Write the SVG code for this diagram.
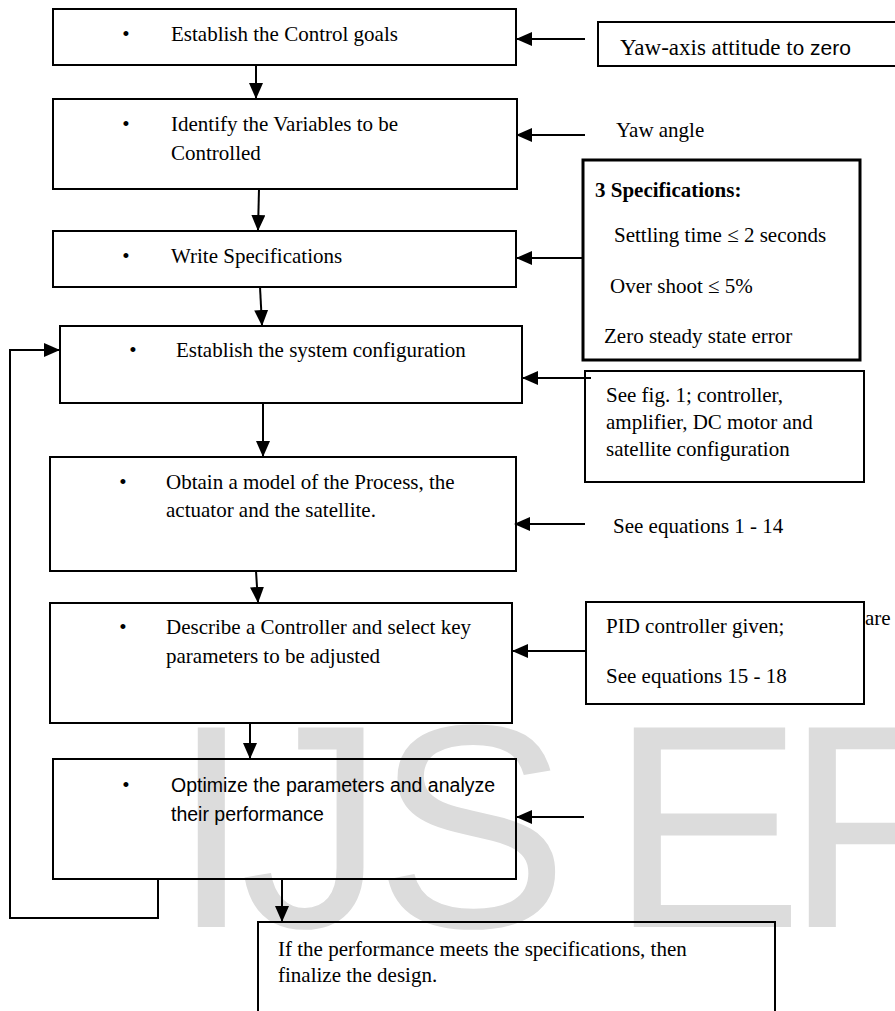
<svg xmlns="http://www.w3.org/2000/svg" width="895" height="1011" viewBox="0 0 895 1011">
<defs>
<style>
.box{fill:none;stroke:#000;stroke-width:2}
.thick{fill:none;stroke:#000;stroke-width:3}
.ln{fill:none;stroke:#000;stroke-width:2;marker-end:url(#ah)}
.t{font-family:"Liberation Serif","Times New Roman",serif;font-size:21px;fill:#000}
.b{font-weight:bold}
.s{font-family:"Liberation Sans",Arial,sans-serif;font-size:19.5px;fill:#000}
.wm{font-family:"Liberation Sans",Arial,sans-serif;font-size:290px;fill:#dcdcdc}
</style>
<marker id="ah" markerUnits="userSpaceOnUse" markerWidth="16" markerHeight="14" refX="15" refY="7" orient="auto">
<path d="M0,0 L16,7 L0,14 z" fill="#000"/>
</marker>
</defs>
<rect width="895" height="1011" fill="#fff"/>
<text class="wm" x="171 240 375 610 785" y="927">IJSER</text>

<g id="connectors">
<path class="ln" d="M256,65 L256,98"/>
<path class="ln" d="M259,189 L258,230"/>
<path class="ln" d="M260,287 L262,325"/>
<path class="ln" d="M263,403 L263,456"/>
<path class="ln" d="M256,571 L258,602"/>
<path class="ln" d="M250,723 L250,758"/>
<path class="ln" d="M282,879 L282,921"/>
<path class="ln" d="M158,879 L158,918 L10,918 L10,350 L59,350"/>
<path class="ln" d="M585,39 L517,39"/>
<path class="ln" d="M585,135 L517,135"/>
<path class="ln" d="M583,258 L517,258"/>
<path class="ln" d="M591,378 L523,378"/>
<path class="ln" d="M585,524 L515,524"/>
<path class="ln" d="M586,651 L513,651"/>
<path class="ln" d="M584,817 L517,817"/>
</g>

<g id="n1">
<rect class="box" x="53" y="9" width="463" height="56"/>
<text class="t" x="126" y="41" text-anchor="middle">•</text>
<text class="t" x="171" y="41">Establish the Control goals</text>
</g>
<g id="n2">
<rect class="box" x="53" y="99" width="464" height="90"/>
<text class="t" x="126" y="131" text-anchor="middle">•</text>
<text class="t" x="171" y="131">Identify the Variables to be</text>
<text class="t" x="171" y="160">Controlled</text>
</g>
<g id="n3">
<rect class="box" x="53" y="231" width="463" height="56"/>
<text class="t" x="126" y="263" text-anchor="middle">•</text>
<text class="t" x="171" y="263">Write Specifications</text>
</g>
<g id="n4">
<rect class="box" x="60" y="326" width="462" height="77"/>
<text class="t" x="133" y="357" text-anchor="middle">•</text>
<text class="t" x="176" y="357">Establish the system configuration</text>
</g>
<g id="n5">
<rect class="box" x="50" y="457" width="466" height="114"/>
<text class="t" x="123" y="489" text-anchor="middle">•</text>
<text class="t" x="166" y="489">Obtain a model of the Process, the</text>
<text class="t" x="166" y="517">actuator and the satellite.</text>
</g>
<g id="n6">
<rect class="box" x="50" y="603" width="462" height="120"/>
<text class="t" x="123" y="634" text-anchor="middle">•</text>
<text class="t" x="166" y="634">Describe a Controller and select key</text>
<text class="t" x="166" y="663">parameters to be adjusted</text>
</g>
<g id="n7">
<rect class="box" x="53" y="759" width="463" height="120"/>
<text class="t" x="126" y="792" text-anchor="middle">•</text>
<text class="s" x="171" y="792">Optimize the parameters and analyze</text>
<text class="s" x="171" y="821">their performance</text>
</g>
<g id="n8">
<rect class="box" x="258" y="922" width="517" height="120"/>
<text class="t" x="278" y="956">If the performance meets the specifications, then</text>
<text class="t" x="278" y="982">finalize the design.</text>
</g>

<g id="goal">
<rect class="box" x="598" y="22" width="320" height="44"/>
<text class="t" x="620" y="55" style="font-size:23px">Yaw-axis attitude to <tspan style="font-family:'Liberation Sans',Arial,sans-serif;font-size:21px">zero</tspan></text>
</g>
<g id="yaw">
<text class="t" x="616" y="137">Yaw angle</text>
</g>
<g id="specs">
<rect class="thick" x="583" y="160" width="277" height="200"/>
<text class="t b" x="595" y="197">3 Specifications:</text>
<text class="t" x="614" y="242">Settling time ≤ 2 seconds</text>
<text class="t" x="610" y="293">Over shoot ≤ 5%</text>
<text class="t" x="604" y="343">Zero steady state error</text>
</g>
<g id="config">
<rect class="box" x="585" y="371" width="279" height="111"/>
<text class="t" x="606" y="402">See fig. 1; controller,</text>
<text class="t" x="606" y="429">amplifier, DC motor and</text>
<text class="t" x="606" y="456">satellite configuration</text>
</g>
<g id="eq1">
<text class="t" x="613" y="533">See equations 1 - 14</text>
</g>
<g id="pid">
<rect class="box" x="586" y="602" width="278" height="102"/>
<text class="t" x="606" y="633">PID controller given;</text>
<text class="t" x="606" y="683">See equations 15 - 18</text>
<text class="t" x="865" y="625">are</text>
</g>
</svg>
